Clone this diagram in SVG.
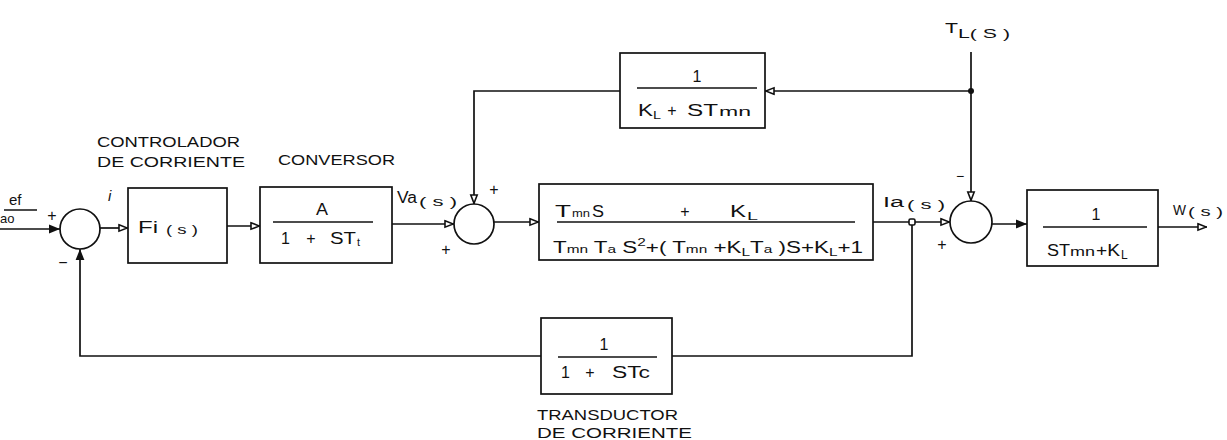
<svg xmlns="http://www.w3.org/2000/svg" width="1227" height="440" viewBox="0 0 1227 440">
<defs>
<style>
.ln{fill:none;stroke:#111;stroke-width:1.7}
.box{fill:#fff;stroke:#111;stroke-width:1.7}
.sum{fill:#fff;stroke:#111;stroke-width:1.7}
.t{font-family:"Liberation Sans",Arial,sans-serif;fill:#111;font-size:16px}
.s{font-family:"Liberation Sans",Arial,sans-serif;fill:#111;font-size:11px}
.lab{font-family:"Liberation Sans",Arial,sans-serif;fill:#111;font-size:15px}
.frac{stroke:#111;stroke-width:1.5}
</style>
<marker id="open" viewBox="0 0 10 10" refX="10" refY="5" markerWidth="10" markerHeight="10" markerUnits="userSpaceOnUse" orient="auto">
<path d="M1,1.8 L9.3,5 L1,8.2 Z" fill="#fff" stroke="#111" stroke-width="1.6"/>
</marker>
<marker id="fill" viewBox="0 0 10 10" refX="10" refY="5" markerWidth="11" markerHeight="11" markerUnits="userSpaceOnUse" orient="auto">
<path d="M0,1 L10,5 L0,9 Z" fill="#111"/>
</marker>
</defs>
<rect width="1227" height="440" fill="#fff"/>

<g id="connectors">
<path class="ln" d="M0,229 L60,229" marker-end="url(#fill)"/>
<path class="ln" d="M100,228 L128,228" marker-end="url(#open)"/>
<path class="ln" d="M227,226 L260,226" marker-end="url(#open)"/>
<path class="ln" d="M392,224 L454,224" marker-end="url(#open)"/>
<path class="ln" d="M494,222 L539,222" marker-end="url(#open)"/>
<path class="ln" d="M873,222 L912,222"/>
<path class="ln" d="M912,222 L950,222" marker-end="url(#open)"/>
<path class="ln" d="M992,224 L1027,224" marker-end="url(#fill)"/>
<path class="ln" d="M1158,227 L1207,227" marker-end="url(#open)"/>
<path class="ln" d="M971,52 L971,201" marker-end="url(#open)"/>
<path class="ln" d="M971,91 L765,91" marker-end="url(#open)"/>
<path class="ln" d="M620,91 L474,91 L474,204" marker-end="url(#open)"/>
<path class="ln" d="M912,222 L912,356 L672,356"/>
<path class="ln" d="M541,356 L80,356 L80,249" marker-end="url(#fill)"/>
<rect x="909" y="219" width="6" height="6" rx="1.5" fill="#fff" stroke="#111" stroke-width="1.6"/>
<circle cx="971" cy="91" r="3" fill="#111"/>
</g>

<g id="input-label">
<text class="t" x="9" y="205" style="font-size:15px">ef</text>
<line x1="4" y1="210" x2="37" y2="210" class="frac"/>
<text class="t" x="0" y="223" style="font-size:13px">ao</text>
</g>

<g id="sum1">
<circle class="sum" cx="80" cy="229" r="20"/>
<text class="t" x="52" y="221" text-anchor="middle">+</text>
<text class="t" x="63" y="268" text-anchor="middle">−</text>
</g>
<text class="t" x="108" y="201" style="font-size:15px;font-style:italic">i</text>

<g id="controller">
<text class="lab" x="97" y="147" textLength="143" lengthAdjust="spacingAndGlyphs">CONTROLADOR</text>
<text class="lab" x="97" y="167" textLength="148" lengthAdjust="spacingAndGlyphs">DE CORRIENTE</text>
<rect class="box" x="128" y="188" width="99" height="75"/>
<text class="t" x="138" y="233" textLength="20" lengthAdjust="spacingAndGlyphs">Fi</text>
<text class="s" x="166" y="234" style="font-size:13px" textLength="32" lengthAdjust="spacingAndGlyphs">( s )</text>
</g>

<g id="converter">
<text class="lab" x="278" y="165" textLength="117" lengthAdjust="spacingAndGlyphs">CONVERSOR</text>
<rect class="box" x="260" y="187" width="132" height="76"/>
<text class="t" x="322" y="215" text-anchor="middle" textLength="12" lengthAdjust="spacingAndGlyphs">A</text>
<line class="frac" x1="273" y1="222" x2="373" y2="222"/>
<text class="t" x="281" y="244">1</text>
<text class="t" x="311" y="244" text-anchor="middle">+</text>
<text class="t" x="330" y="244" textLength="26" lengthAdjust="spacingAndGlyphs">ST</text>
<text class="s" x="357" y="246">t</text>
</g>

<g id="va-label">
<text class="t" x="397" y="203" textLength="20" lengthAdjust="spacingAndGlyphs">Va</text>
<text class="s" x="419" y="206" style="font-size:13px" textLength="38" lengthAdjust="spacingAndGlyphs">( s )</text>
</g>

<g id="sum2">
<circle class="sum" cx="474" cy="224" r="20"/>
<text class="t" x="494" y="195" text-anchor="middle">+</text>
<text class="t" x="446" y="255" text-anchor="middle">+</text>
</g>

<g id="motor-block">
<rect class="box" x="539" y="184" width="334" height="76"/>
<text class="t" x="555" y="217" textLength="16" lengthAdjust="spacingAndGlyphs">T</text>
<text class="s" x="572" y="217" textLength="18" lengthAdjust="spacingAndGlyphs">mn</text>
<text class="t" x="592" y="217" textLength="12" lengthAdjust="spacingAndGlyphs">S</text>
<text class="t" x="685" y="217" text-anchor="middle">+</text>
<text class="t" x="730" y="217" textLength="16" lengthAdjust="spacingAndGlyphs">K</text>
<text class="s" x="747" y="220" textLength="11" lengthAdjust="spacingAndGlyphs">L</text>
<line class="frac" x1="557" y1="222" x2="855" y2="222"/>
<text class="t" x="708" y="253" text-anchor="middle" textLength="310" lengthAdjust="spacingAndGlyphs">T<tspan class="s">mn</tspan> T<tspan class="s">a</tspan> S<tspan class="s" dy="-7">2</tspan><tspan dy="7">+( T</tspan><tspan class="s">mn</tspan> +K<tspan class="s" dy="3">L</tspan><tspan dy="-3">T</tspan><tspan class="s">a</tspan> )S+K<tspan class="s" dy="3">L</tspan><tspan dy="-3">+1</tspan></text>
</g>

<g id="load-feedback">
<rect class="box" x="620" y="53" width="145" height="75"/>
<text class="t" x="697" y="82" text-anchor="middle">1</text>
<line class="frac" x1="637" y1="88" x2="757" y2="88"/>
<text class="t" x="638" y="116" textLength="15" lengthAdjust="spacingAndGlyphs">K</text>
<text class="s" x="653" y="119" textLength="8" lengthAdjust="spacingAndGlyphs">L</text>
<text class="t" x="672" y="116" text-anchor="middle">+</text>
<text class="t" x="687" y="116" textLength="31" lengthAdjust="spacingAndGlyphs">ST</text>
<text class="s" x="719" y="116" style="font-size:13px" textLength="32" lengthAdjust="spacingAndGlyphs">mn</text>
</g>

<g id="ia-label">
<text class="t" x="883" y="207" style="font-size:14px" textLength="21" lengthAdjust="spacingAndGlyphs">Ia</text>
<text class="s" x="907" y="209" style="font-size:13px" textLength="38" lengthAdjust="spacingAndGlyphs">( s )</text>
</g>

<g id="tl-label">
<text class="t" x="945" y="33" style="font-size:15px" textLength="13" lengthAdjust="spacingAndGlyphs">T</text>
<text class="s" x="958" y="38" style="font-size:13px" textLength="52" lengthAdjust="spacingAndGlyphs">L( S )</text>
</g>

<g id="sum3">
<circle class="sum" cx="971" cy="222" r="21"/>
<text class="t" x="960" y="181" style="font-size:14px" text-anchor="middle">−</text>
<text class="t" x="942" y="250" text-anchor="middle">+</text>
</g>

<g id="output-block">
<rect class="box" x="1027" y="190" width="131" height="76"/>
<text class="t" x="1096" y="220" text-anchor="middle">1</text>
<line class="frac" x1="1043" y1="227" x2="1147" y2="227"/>
<text class="t" x="1047" y="256" textLength="23" lengthAdjust="spacingAndGlyphs">ST</text>
<text class="s" x="1070" y="256" style="font-size:13px" textLength="25" lengthAdjust="spacingAndGlyphs">mn</text>
<text class="t" x="1096" y="256" textLength="24" lengthAdjust="spacingAndGlyphs">+K</text>
<text class="s" x="1121" y="259" style="font-size:12px">L</text>
</g>

<g id="w-label">
<text class="t" x="1173" y="215" style="font-size:14px" textLength="13" lengthAdjust="spacingAndGlyphs">W</text>
<text class="s" x="1188" y="216" style="font-size:13px" textLength="35" lengthAdjust="spacingAndGlyphs">( s )</text>
</g>

<g id="transducer">
<rect class="box" x="541" y="318" width="131" height="76"/>
<text class="t" x="604" y="350" text-anchor="middle">1</text>
<line class="frac" x1="558" y1="357" x2="657" y2="357"/>
<text class="t" x="561" y="378">1</text>
<text class="t" x="590" y="378" text-anchor="middle">+</text>
<text class="t" x="612" y="378" textLength="38" lengthAdjust="spacingAndGlyphs">STc</text>
<text class="lab" x="537" y="420" textLength="141" lengthAdjust="spacingAndGlyphs">TRANSDUCTOR</text>
<text class="lab" x="537" y="438" textLength="155" lengthAdjust="spacingAndGlyphs">DE CORRIENTE</text>
</g>
</svg>
